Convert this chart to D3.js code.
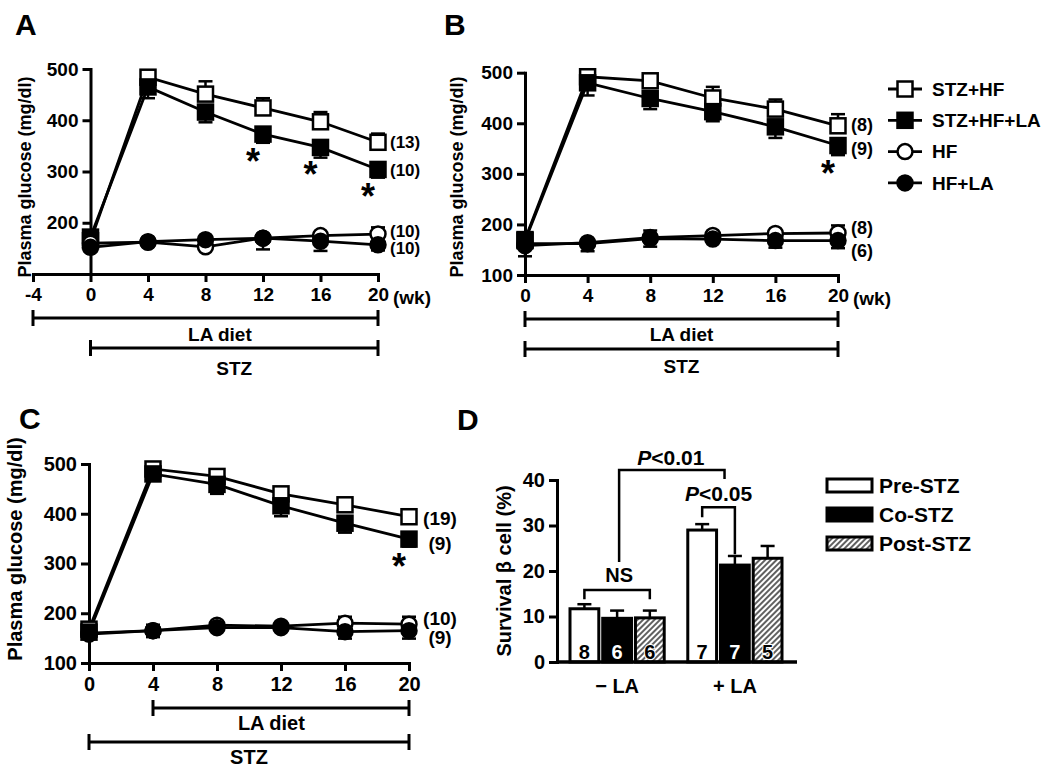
<!DOCTYPE html>
<html>
<head>
<meta charset="utf-8">
<script src="https://d3js.org/d3.v7.min.js"></script>
<style>
  body { margin: 0; background: #fff; }
  svg text { font-family: "Liberation Sans", Arial, sans-serif; font-weight: bold; fill: #000; }
</style>
</head>
<body>
<svg id="fig" width="1050" height="770"></svg>
<script>
// ---- data ----
const weeks = [0, 4, 8, 12, 16, 20];
const groupNames = ["STZ+HF", "STZ+HF+LA", "HF", "HF+LA"];

// panel A (rows follow groupNames)
const meanA = [
  [165, 484, 451, 424, 397, 357],
  [172, 465, 416, 373, 347, 304],
  [160, 162, 153, 170, 175, 178],
  [152, 163, 167, 170, 164, 157]];
const semA = [
  [6, 10, 25, 19, 19, 17],
  [10, 22, 20, 17, 20, 16],
  [5, 5, 5, 5, 5, 13],
  [8, 5, 5, 22, 19, 11]];
const nA = ["(13)", "(10)", "(10)", "(10)"];
const nLevelA = [357, 304, 184, 151];
const starsA = [12, 16, 20];

// panel B
const meanB = [
  [170, 492, 484, 450, 428, 395],
  [168, 480, 449, 423, 393, 356],
  [158, 164, 174, 178, 182, 183],
  [162, 162, 172, 171, 168, 168]];
const semB = [
  [6, 6, 13, 22, 19, 23],
  [10, 25, 21, 19, 22, 19],
  [6, 5, 14, 5, 6, 15],
  [25, 15, 16, 5, 14, 15]];
const nB = ["(8)", "(9)", "(8)", "(6)"];
const nLevelB = [398, 351, 194, 148];
const starsB = [20];

// panel C
const meanC = [
  [168, 490, 475, 440, 418, 394],
  [162, 480, 459, 416, 381, 349],
  [160, 165, 176, 174, 180, 178],
  [158, 165, 171, 171, 163, 165]];
const semC = [
  [6, 6, 6, 6, 6, 6],
  [8, 8, 19, 21, 19, 15],
  [5, 12, 5, 5, 13, 15],
  [5, 13, 5, 5, 14, 16]];
const nC = ["(19)", "(9)", "(10)", "(9)"];
const nLevelC = [391, 341, 191, 151];
const starsC = [20];

// timelines: label, from wk, to wk, label position wk
const timelineA = [["LA diet", -4, 20, 9], ["STZ", 0, 20, 10]];
const timelineB = [["LA diet", 0, 20, 10], ["STZ", 0, 20, 10]];
const timelineC = [["LA diet", 4, 20, 11.4], ["STZ", 0, 20, 10]];

// panel D
const dGroups = ["\u2212 LA", "+ LA"];
const dTiming = ["Pre-STZ", "Co-STZ", "Post-STZ"];
const dMeanNoLA = [11.7, 9.6, 9.7];
const dMeanLA = [29.0, 21.3, 22.8];
const dSemNoLA = [1.0, 1.7, 1.6];
const dSemLA = [1.3, 2.0, 2.7];
const dNNoLA = [8, 6, 6];
const dNLA = [7, 7, 5];
const dTicks = [0, 10, 20, 30, 40];

// ---- drawing ----
const svg = d3.select('svg#fig');

const defs = svg.append('defs');
const hatch = defs.append('pattern').attr('id', 'hatch')
    .attr('patternUnits', 'userSpaceOnUse')
    .attr('width', 4).attr('height', 4)
    .attr('patternTransform', 'rotate(45)');
hatch.append('rect').attr('width', 4).attr('height', 4).attr('fill', '#fff');
hatch.append('line').attr('x1', 1).attr('y1', 0).attr('x2', 1).attr('y2', 4)
    .attr('stroke', '#444').attr('stroke-width', 1.7);

// marker look per group: open square, filled square, open circle, filled circle
const styles = [
  {shape: 'square', fill: '#fff', dir: 1},
  {shape: 'square', fill: '#000', dir: -1},
  {shape: 'circle', fill: '#fff', dir: 1},
  {shape: 'circle', fill: '#000', dir: -1}];

function drawMarker(g, st, cx, cy, s) {
  if (st.shape === 'square') {
    g.append('rect').attr('x', cx - s / 2).attr('y', cy - s / 2)
      .attr('width', s).attr('height', s)
      .attr('fill', st.fill).attr('stroke', '#000').attr('stroke-width', 2.5);
  } else {
    g.append('circle').attr('cx', cx).attr('cy', cy).attr('r', s / 2)
      .attr('fill', st.fill).attr('stroke', '#000').attr('stroke-width', 2.5);
  }
}

function styleAxis(a, fs) {
  a.attr('font-size', fs).attr('font-family', null);
  a.select('.domain').attr('stroke', '#000').attr('stroke-width', 3).attr('stroke-linecap', 'square');
  a.selectAll('.tick line').attr('stroke', '#000').attr('stroke-width', 3);
  a.selectAll('.tick text').attr('fill', '#000');
}

function linePanel(p) {
  const g = svg.append('g');
  const x = d3.scaleLinear().domain(p.xDomain).range(p.xRange);
  const y = d3.scaleLinear().domain([100, 500]).range(p.yRange);

  const ya = g.append('g').attr('transform', `translate(${x(0)},0)`)
    .call(d3.axisLeft(y).tickValues(p.yTicks).tickSize(8).tickSizeOuter(0).tickPadding(4));
  styleAxis(ya, p.fs);
  const xa = g.append('g').attr('transform', `translate(0,${y(100)})`)
    .call(d3.axisBottom(x).tickValues(p.xTicks).tickSize(8).tickSizeOuter(0).tickPadding(6)
      .tickFormat(d => String(d)));
  styleAxis(xa, p.fs);

  if (p.wk) {
    g.append('text').attr('x', x(20) + 15).attr('y', y(100) + 30)
      .attr('font-size', p.fs).text('(wk)');
  }

  g.append('text')
    .attr('transform', `translate(${p.titleX},${p.titleY}) rotate(-90)`)
    .attr('text-anchor', 'middle').attr('font-size', p.titleFs)
    .text('Plasma glucose (mg/dl)');

  const line = d3.line().x(d => x(d[0])).y(d => y(d[1]));
  p.mean.forEach((m, i) => {
    g.append('path').datum(weeks.map((w, k) => [w, m[k]]))
      .attr('d', line).attr('fill', 'none')
      .attr('stroke', '#000').attr('stroke-width', 2.8);
  });
  p.mean.forEach((m, i) => {
    const st = styles[i];
    weeks.forEach((w, k) => {
      const yEnd = y(m[k] + st.dir * p.sem[i][k]);
      g.append('line').attr('x1', x(w)).attr('x2', x(w))
        .attr('y1', y(m[k])).attr('y2', yEnd)
        .attr('stroke', '#000').attr('stroke-width', 2.5);
      g.append('line').attr('x1', x(w) - 7).attr('x2', x(w) + 7)
        .attr('y1', yEnd).attr('y2', yEnd)
        .attr('stroke', '#000').attr('stroke-width', 2.5);
    });
  });
  p.mean.forEach((m, i) => {
    weeks.forEach((w, k) => drawMarker(g, styles[i], x(w), y(m[k]), 15));
  });

  // group sizes at the end of each line
  p.n.forEach((t, i) => {
    g.append('text').attr('x', p.nX(x(20))).attr('y', y(p.nLevel[i]))
      .attr('dy', '0.36em').attr('text-anchor', p.nAnchor)
      .attr('font-size', p.nFs).text(t);
  });

  // significance stars under the STZ+HF+LA points
  p.stars.forEach(w => {
    const k = weeks.indexOf(w);
    g.append('text').attr('x', x(w) - 10).attr('y', y(p.mean[1][k]) + 40)
      .attr('text-anchor', 'middle').attr('font-size', 36).text('*');
  });

  // treatment timelines
  p.timeline.forEach((t, i) => {
    const yy = p.tlY[i];
    const x1 = x(t[1]), x2 = x(t[2]);
    g.append('line').attr('x1', x1).attr('x2', x2).attr('y1', yy).attr('y2', yy)
      .attr('stroke', '#000').attr('stroke-width', 3);
    [x1, x2].forEach(xx => g.append('line').attr('x1', xx).attr('x2', xx)
      .attr('y1', yy - 8).attr('y2', yy + 8).attr('stroke', '#000').attr('stroke-width', 3));
    g.append('text').attr('x', x(t[3])).attr('y', p.tlLabelY[i])
      .attr('text-anchor', 'middle').attr('font-size', p.fs).text(t[0]);
  });
}

linePanel({
  xDomain: [-4, 20], xRange: [33, 378], yRange: [274, 69],
  yTicks: [200, 300, 400, 500], xTicks: [-4, 0, 4, 8, 12, 16, 20],
  fs: 19, nFs: 17, wk: true, titleX: 31, titleY: 177, titleFs: 18,
  mean: meanA, sem: semA, n: nA, nLevel: nLevelA, nAnchor: 'start', nX: v => v + 12,
  stars: starsA, timeline: timelineA, tlY: [318, 348], tlLabelY: [341, 375]
});
linePanel({
  xDomain: [0, 20], xRange: [525, 838], yRange: [275, 72.7],
  yTicks: [100, 200, 300, 400, 500], xTicks: weeks,
  fs: 19, nFs: 18, wk: true, titleX: 463, titleY: 177, titleFs: 18,
  mean: meanB, sem: semB, n: nB, nLevel: nLevelB, nAnchor: 'start', nX: v => v + 13,
  stars: starsB, timeline: timelineB, tlY: [319, 349], tlLabelY: [341, 373]
});
linePanel({
  xDomain: [0, 20], xRange: [89, 409], yRange: [663, 464],
  yTicks: [100, 200, 300, 400, 500], xTicks: weeks,
  fs: 20, nFs: 19, wk: false, titleX: 22, titleY: 549, titleFs: 20,
  mean: meanC, sem: semC, n: nC, nLevel: nLevelC, nAnchor: 'middle', nX: v => v + 31,
  stars: starsC, timeline: timelineC, tlY: [708, 742], tlLabelY: [730, 764]
});

// legend for A/B
groupNames.forEach((name, i) => {
  const yy = 89 + i * 31.3;
  svg.append('line').attr('x1', 888).attr('x2', 922).attr('y1', yy).attr('y2', yy)
    .attr('stroke', '#000').attr('stroke-width', 2.8);
  drawMarker(svg, styles[i], 905, yy, 15);
  svg.append('text').attr('x', 932).attr('y', yy).attr('dy', '0.36em')
    .attr('font-size', 19).text(name);
});

// panel letters
[['A', 15, 35], ['B', 444, 35], ['C', 19, 429], ['D', 457, 430]].forEach(d => {
  svg.append('text').attr('x', d[1]).attr('y', d[2]).attr('font-size', 30).text(d[0]);
});

// ---- panel D ----
const gd = svg.append('g');
const yD = d3.scaleLinear().domain([0, 40]).range([662, 480]);
const x0 = d3.scaleBand().domain(dGroups).range([570, 782]).paddingInner(0.2);
const x1 = d3.scaleBand().domain(dTiming).range([0, x0.bandwidth()]).paddingInner(0.12);
const dFill = {"Pre-STZ": '#fff', "Co-STZ": '#000', "Post-STZ": 'url(#hatch)'};

const yaD = gd.append('g').attr('transform', 'translate(557,0)')
  .call(d3.axisLeft(yD).tickValues(dTicks).tickSize(8).tickSizeOuter(0).tickPadding(4));
styleAxis(yaD, 20);

const dMeans = [dMeanNoLA, dMeanLA], dSems = [dSemNoLA, dSemLA], dNs = [dNNoLA, dNLA];
const barCx = (gi, ti) => x0(dGroups[gi]) + x1(dTiming[ti]) + x1.bandwidth() / 2;

dGroups.forEach((grp, gi) => {
  dTiming.forEach((t, ti) => {
    const bx = x0(grp) + x1(t), v = dMeans[gi][ti], top = yD(v + dSems[gi][ti]);
    gd.append('line').attr('x1', barCx(gi, ti)).attr('x2', barCx(gi, ti))
      .attr('y1', yD(v)).attr('y2', top).attr('stroke', '#000').attr('stroke-width', 2.5);
    gd.append('line').attr('x1', barCx(gi, ti) - 7).attr('x2', barCx(gi, ti) + 7)
      .attr('y1', top).attr('y2', top).attr('stroke', '#000').attr('stroke-width', 2.5);
    gd.append('rect').attr('x', bx).attr('y', yD(v))
      .attr('width', x1.bandwidth()).attr('height', yD(0) - yD(v))
      .attr('fill', dFill[t]).attr('stroke', '#000').attr('stroke-width', 3);
    gd.append('text').attr('x', barCx(gi, ti)).attr('y', 659)
      .attr('text-anchor', 'middle').attr('font-size', 20)
      .style('fill', t === 'Co-STZ' ? '#fff' : '#000')
      .attr('stroke', t === 'Post-STZ' ? '#fff' : 'none').attr('stroke-width', 2)
      .attr('paint-order', 'stroke')
      .text(dNs[gi][ti]);
  });
  gd.append('text').attr('x', x0(grp) + x0.bandwidth() / 2).attr('y', 693)
    .attr('text-anchor', 'middle').attr('font-size', 20).text(grp);
});

// x baseline
gd.append('line').attr('x1', 557).attr('x2', 797).attr('y1', yD(0)).attr('y2', yD(0))
  .attr('stroke', '#000').attr('stroke-width', 3.5);

gd.append('text').attr('transform', 'translate(511,571) rotate(-90)')
  .attr('text-anchor', 'middle').attr('font-size', 20).text('Survival \u03B2 cell (%)');

function bracketPath(pts) {
  gd.append('path').attr('d', d3.line()(pts)).attr('fill', 'none')
    .attr('stroke', '#000').attr('stroke-width', 2.5);
}
// NS bracket over -LA bars
const nsY = yD(15.8);
bracketPath([[barCx(0, 0), yD(13.8)], [barCx(0, 0), nsY], [barCx(0, 2), nsY], [barCx(0, 2), yD(13.8)]]);
const nsX = x0(dGroups[0]) + x0.bandwidth() / 2 + 2;
gd.append('text').attr('x', nsX).attr('y', 582).attr('text-anchor', 'middle')
  .attr('font-size', 20).text('NS');
// P<0.05 bracket, Pre vs Co within +LA
const p5Y = yD(34.0);
bracketPath([[barCx(1, 0), yD(31.8)], [barCx(1, 0), p5Y], [barCx(1, 1), p5Y], [barCx(1, 1), yD(23.7)]]);
const p5X = (barCx(1, 0) + barCx(1, 1)) / 2;
const t5 = gd.append('text').attr('x', p5X).attr('y', 501).attr('text-anchor', 'middle').attr('font-size', 21);
t5.append('tspan').attr('font-style', 'italic').text('P');
t5.append('tspan').text('<0.05');
// P<0.01 bracket, -LA vs +LA
const p1Y = yD(42.2);
bracketPath([[nsX, yD(22)], [nsX, p1Y], [p5X + 6, p1Y], [p5X + 6, yD(40.2)]]);
const t1 = gd.append('text').attr('x', (nsX + p5X) / 2 + 2).attr('y', 465).attr('text-anchor', 'middle').attr('font-size', 21);
t1.append('tspan').attr('font-style', 'italic').text('P');
t1.append('tspan').text('<0.01');

// legend D
dTiming.forEach((t, i) => {
  const yy = 479 + i * 29;
  gd.append('rect').attr('x', 827).attr('y', yy).attr('width', 45).attr('height', 13)
    .attr('fill', dFill[t]).attr('stroke', '#000').attr('stroke-width', 3);
  gd.append('text').attr('x', 879).attr('y', yy + 14).attr('font-size', 21).text(t);
});
</script>
</body>
</html>
